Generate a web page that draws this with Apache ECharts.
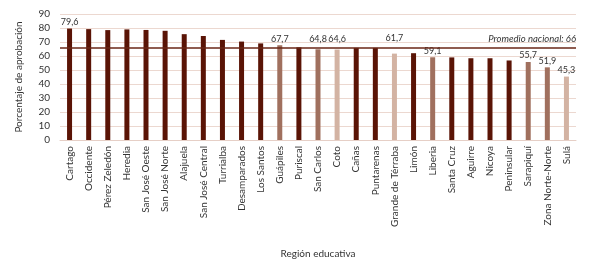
<!DOCTYPE html>
<html>
<head>
<meta charset="utf-8">
<script src="https://cdn.jsdelivr.net/npm/echarts@6/dist/echarts.min.js"></script>
<style>
  html, body { margin: 0; padding: 0; background: #fff; }
  #chart { width: 589px; height: 260px; }
</style>
</head>
<body>
<div id="chart"></div>
<script>
var regiones = ['Cartago', 'Occidente', 'Pérez Zeledón', 'Heredia', 'San José Oeste', 'San José Norte',
    'Alajuela', 'San José Central', 'Turrialba', 'Desamparados', 'Los Santos', 'Guápiles', 'Puriscal',
    'San Carlos', 'Coto', 'Cañas', 'Puntarenas', 'Grande de Térraba', 'Limón', 'Liberia', 'Santa Cruz',
    'Aguirre', 'Nicoya', 'Peninsular', 'Sarapiquí', 'Zona Norte-Norte', 'Sulá'];
var aprobacion = [79.6, 79.2, 78.5, 79.0, 78.6, 78.0, 75.6, 74.3, 71.5, 70.3, 69.0, 67.7, 66.2,
    64.8, 64.6, 65.8, 65.8, 61.7, 62.0, 59.1, 59.0, 58.4, 58.4, 56.8, 55.7, 51.9, 45.3];
// 0 = oscuro, 1 = medio, 2 = claro
var tono = [0, 0, 0, 0, 0, 0, 0, 0, 0, 0, 0, 1, 0, 1, 2, 0, 0, 2, 0, 1, 0, 0, 0, 0, 1, 1, 2];
var conEtiqueta = ['Cartago', 'Guápiles', 'San Carlos', 'Coto', 'Grande de Térraba', 'Liberia',
    'Sarapiquí', 'Zona Norte-Norte', 'Sulá'];
var promedio = 66;
var yTicks = [0, 10, 20, 30, 40, 50, 60, 70, 80, 90];

var colores = ['#5a1406', '#a0705e', '#d3b3a3'];
var fuente = 'Lato';
// etiquetas subidas por encima de la línea del promedio
var separacion = { 'San Carlos': 6, 'Coto': 6, 'Grande de Térraba': 11 };

var datos = aprobacion.map(function (v, i) {
    return {
        value: v,
        itemStyle: { color: colores[tono[i]] },
        label: {
            show: conEtiqueta.indexOf(regiones[i]) >= 0,
            distance: separacion[regiones[i]] || 2
        }
    };
});

var myChart = echarts.init(document.getElementById('chart'));
var option = {
    animation: false,
    grid: { left: 60, right: 13, top: 14, bottom: 116 },
    xAxis: {
        type: 'category',
        data: regiones,
        name: 'Región educativa',
        nameLocation: 'middle',
        nameGap: 109,
        nameTextStyle: { fontFamily: fuente, fontSize: 10, color: '#333' },
        axisLine: { lineStyle: { color: '#e6cfc6' } },
        axisTick: { show: false },
        axisLabel: { rotate: 90, interval: 0, fontFamily: fuente, fontSize: 10, color: '#333', margin: 6 }
    },
    yAxis: {
        type: 'value',
        min: yTicks[0],
        max: yTicks[yTicks.length - 1],
        interval: 10,
        name: 'Porcentaje de aprobación',
        nameLocation: 'middle',
        nameGap: 36,
        nameTextStyle: { fontFamily: fuente, fontSize: 10, color: '#333' },
        axisLine: { show: false },
        axisTick: { show: false },
        axisLabel: { fontFamily: fuente, fontSize: 10, color: '#333', margin: 10 },
        splitLine: { lineStyle: { color: '#ecd8d0', width: 1 } }
    },
    series: [{
        type: 'bar',
        data: datos,
        barWidth: 5,
        label: {
            position: 'top',
            fontFamily: fuente,
            fontSize: 9,
            color: '#333',
            formatter: function (p) { return String(p.value).replace('.', ','); }
        },
        markLine: {
            silent: true,
            symbol: 'none',
            lineStyle: { color: '#6a2616', width: 1.5, type: 'solid' },
            label: {
                position: 'insideEndTop',
                fontFamily: fuente,
                fontSize: 9.5,
                fontStyle: 'italic',
                color: '#333',
                distance: [0, 4],
                formatter: 'Promedio nacional: ' + promedio
            },
            data: [{ yAxis: promedio }]
        }
    }]
};
myChart.setOption(option);
</script>
</body>
</html>
